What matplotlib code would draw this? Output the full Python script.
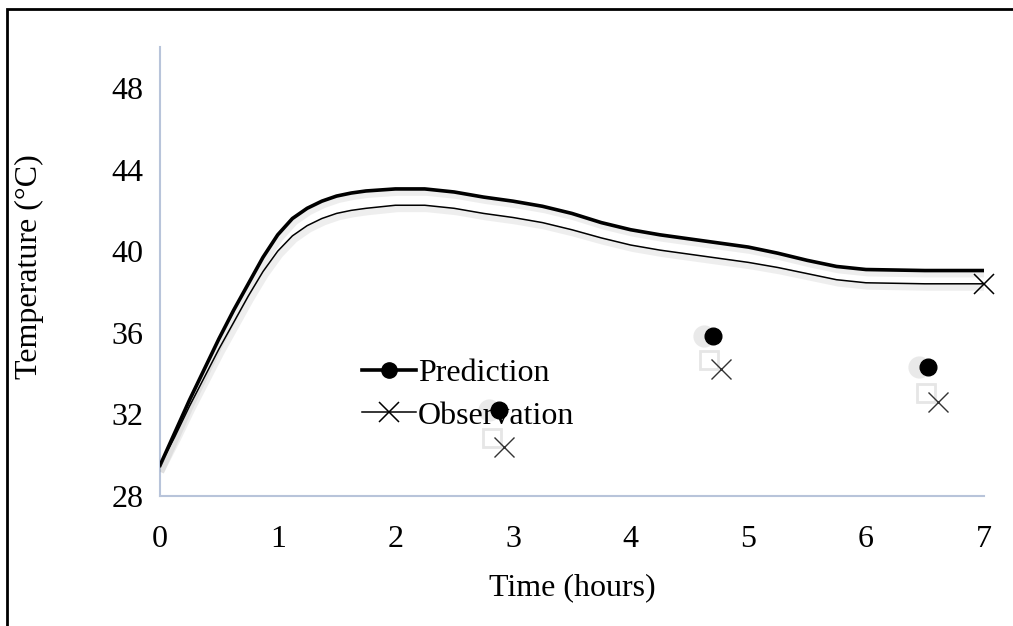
import matplotlib
matplotlib.use("Agg")
import matplotlib.pyplot as plt
import matplotlib.patheffects as pe
from matplotlib.patches import Rectangle

# values
t = [0, 0.125, 0.25, 0.375, 0.5, 0.625, 0.75, 0.875, 1.0, 1.125, 1.25, 1.375, 1.5,
     1.625, 1.75, 2.0, 2.25, 2.5, 2.75, 3.0, 3.25, 3.5, 3.75, 4.0, 4.25, 4.5, 4.75,
     5.0, 5.25, 5.5, 5.75, 6.0, 6.5, 7.0]
pred = [29.5, 31.1, 32.7, 34.2, 35.7, 37.1, 38.4, 39.7, 40.8, 41.6, 42.1, 42.45, 42.7,
        42.85, 42.95, 43.05, 43.05, 42.9, 42.65, 42.45, 42.2, 41.85, 41.4, 41.05, 40.8,
        40.6, 40.4, 40.2, 39.9, 39.55, 39.25, 39.1, 39.05, 39.05]
obs = [29.5, 30.9, 32.4, 33.8, 35.2, 36.5, 37.8, 39.0, 40.0, 40.75, 41.25, 41.6, 41.85,
       42.0, 42.1, 42.25, 42.25, 42.1, 41.85, 41.65, 41.4, 41.05, 40.65, 40.3, 40.05,
       39.85, 39.65, 39.45, 39.2, 38.9, 38.6, 38.45, 38.4, 38.4]

# stray points
pt_pred_x = [2.88, 4.70, 6.53]
pt_pred_y = [32.2, 35.85, 34.3]
pt_obs_x = [2.92, 4.77, 6.61]
pt_obs_y = [30.4, 34.2, 32.6]

xticks = [0, 1, 2, 3, 4, 5, 6, 7]
yticks = [28, 32, 36, 40, 44, 48]

plt.rcParams['font.family'] = ['Liberation Serif', 'DejaVu Serif']
fs = 23

fig = plt.figure(figsize=(10.13, 6.26), dpi=100)
ax = fig.add_axes([0.158, 0.2077, 0.813, 0.717])

shadow = [pe.SimpleLineShadow(offset=(1.5, -2.5), shadow_color='gray', alpha=0.13, linewidth=5),
          pe.Normal()]

ax.plot(t, pred, color='black', lw=2.6, path_effects=shadow, zorder=3,
        solid_joinstyle='round')
ax.plot(t, obs, color='black', lw=1.1, path_effects=shadow, zorder=3,
        solid_joinstyle='round')
ax.plot([t[-1]], [obs[-1]], marker='x', ms=15, mew=1.1, color='black', ls='none',
        zorder=4, clip_on=False)

# shadow blobs behind the stray markers
ax.plot([x - 0.08 for x in pt_pred_x], pt_pred_y, 'o', ms=16, color='#d4d4d4', alpha=0.5,
        mec='none', zorder=2)
ax.plot([x - 0.1 for x in pt_obs_x], [y + 0.45 for y in pt_obs_y], 's', ms=13,
        mfc='white', mec='#e6e6e6', mew=2, zorder=2)
ax.plot(pt_pred_x, pt_pred_y, 'o', ms=12, color='black', ls='none', zorder=4)
ax.plot(pt_obs_x, pt_obs_y, 'x', ms=15, mew=1.0, color='#333333', ls='none', zorder=4)

ax.set_xlim(0, 7)
ax.set_ylim(28, 50)
ax.set_xticks(xticks)
ax.set_yticks(yticks)
ax.tick_params(length=0, labelsize=fs)
ax.tick_params(axis='x', pad=21)
ax.tick_params(axis='y', pad=12)
for s in ['top', 'right']:
    ax.spines[s].set_visible(False)
for s in ['left', 'bottom']:
    ax.spines[s].set_color('#b8c4da')
    ax.spines[s].set_linewidth(1.5)

ax.set_xlabel('Time (hours)', fontsize=fs)
ax.set_ylabel('Temperature (°C)', fontsize=fs)
ax.xaxis.set_label_coords(0.5, -0.171)
ax.yaxis.set_label_coords(-0.141, 0.51)

h1, = ax.plot([], [], color='black', lw=2.6, marker='o', ms=11)
h2, = ax.plot([], [], color='black', lw=1.1, marker='x', ms=14, mew=1.1)
ax.legend([h1, h2], ['Prediction', 'Observation'], loc='upper left',
          bbox_to_anchor=(0.245, 0.305), frameon=False, fontsize=fs,
          handlelength=1.7, handletextpad=0.05, labelspacing=0.4, borderaxespad=0,
          borderpad=0)

# outer frame (only left and top edges visible)
fig.patches.append(Rectangle((7 / 1013, -0.1), 1.2, 1.1 - 9 / 626, transform=fig.transFigure,
                             fill=False, edgecolor='black', lw=2, zorder=10))

fig.savefig('out.png', dpi=100)
